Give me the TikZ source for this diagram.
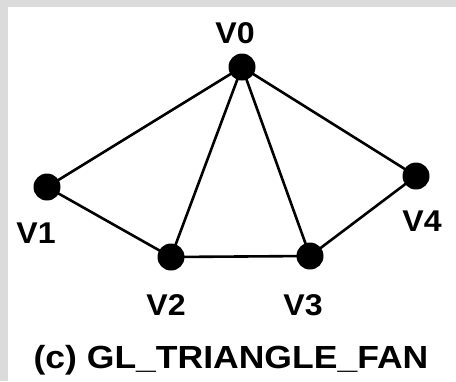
\documentclass[tikz,border=0pt]{standalone}
\usepackage{fontspec}
\setmainfont{Liberation Sans}
\begin{document}
\begin{tikzpicture}[x=1pt,y=-1pt,
  vertex/.style={circle,fill=black,inner sep=0pt,minimum size=27pt},
  edge/.style={draw=black,line width=2.6pt},
  vlabel/.style={anchor=base,inner sep=0pt,font=\fontsize{30}{33}\selectfont\bfseries,xscale=1.07,transform shape},
  caption/.style={anchor=base,inner sep=0pt,font=\fontsize{32}{36}\selectfont\bfseries,xscale=1.11,transform shape}]
  % page background with a grey frame on the top and left
  \fill[gray!28] (0,0) rectangle (456,381);
  \fill[white] (8,7) rectangle (456,381);
  \useasboundingbox (0,0) rectangle (456,381);

  % vertex positions (named points, so the edges can go underneath the dots)
  \coordinate (p0) at (242,67);
  \coordinate (p1) at (47,187);
  \coordinate (p2) at (171,257);
  \coordinate (p3) at (310,256);
  \coordinate (p4) at (416,176);

  % edges: spokes from V0 and the outer rim
  \draw[edge] (p0) -- (p1);
  \draw[edge] (p0) -- (p2);
  \draw[edge] (p0) -- (p3);
  \draw[edge] (p0) -- (p4);
  \draw[edge] (p1) -- (p2);
  \draw[edge] (p2) -- (p3);
  \draw[edge] (p3) -- (p4);

  % vertices of the fan, drawn over the line ends
  \node[vertex] (v0) at (p0) {};
  \node[vertex] (v1) at (p1) {};
  \node[vertex] (v2) at (p2) {};
  \node[vertex] (v3) at (p3) {};
  \node[vertex] (v4) at (p4) {};

  % vertex labels
  \node[vlabel] (l0) at (235,43) {V0};
  \node[vlabel] (l1) at (36,243) {V1};
  \node[vlabel] (l2) at (166,315) {V2};
  \node[vlabel] (l3) at (303,315) {V3};
  \node[vlabel] (l4) at (422,231) {V4};

  % caption
  \node[caption] (cap) at (231,368) {(c) GL\_TRIANGLE\_FAN};
\end{tikzpicture}
\end{document}
